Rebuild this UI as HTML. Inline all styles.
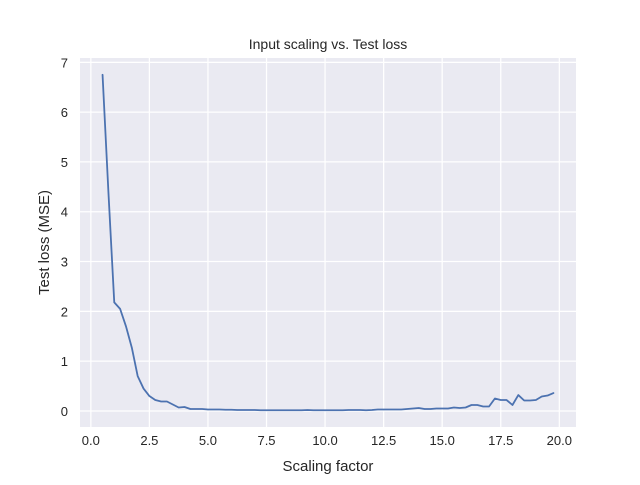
<!DOCTYPE html>
<html><head><meta charset="utf-8"><style>
body{margin:0;background:#fff;}
svg text{font-family:"Liberation Sans","DejaVu Sans",sans-serif;fill:#262626;}
</style></head><body>
<svg id="chart" width="640" height="480" viewBox="0 0 640 480"></svg>
<script>
const scalingFactors = [];
for (let i = 0; i < 78; i++) scalingFactors.push(0.5 + i * 0.25);
const testLoss = [6.75,4.4,2.18,2.05,1.7,1.27,0.7,0.45,0.3,0.22,
0.19,0.19,0.13,0.07,0.08,0.04,0.04,0.04,0.03,0.03,
0.03,0.025,0.025,0.02,0.02,0.02,0.02,0.015,0.015,0.015,
0.015,0.015,0.015,0.015,0.015,0.02,0.015,0.015,0.015,0.015,
0.015,0.015,0.02,0.02,0.02,0.015,0.02,0.03,
0.03,0.03,0.03,0.03,0.04,0.05,0.06,0.04,0.04,0.05,
0.05,0.05,0.07,0.06,0.07,0.12,0.12,0.09,0.09,0.25,
0.22,0.22,0.12,0.32,0.21,0.21,0.22,0.29,0.31,0.36];
const xTicks = [0,2.5,5,7.5,10,12.5,15,17.5,20];
const yTicks = [0,1,2,3,4,5,6,7];

const NS = "http://www.w3.org/2000/svg";
const svg = document.getElementById("chart");
const L = 80, R = 576, T = 58, B = 427;
const xMinD = Math.min(...scalingFactors), xMaxD = Math.max(...scalingFactors);
const yMinD = Math.min(...testLoss), yMaxD = Math.max(...testLoss);
const xm = (xMaxD - xMinD) * 0.05, ym = (yMaxD - yMinD) * 0.05;
const x0 = xMinD - xm, x1 = xMaxD + xm, y0 = yMinD - ym, y1 = yMaxD + ym;
const sx = v => L + (v - x0) / (x1 - x0) * (R - L);
const sy = v => B - (v - y0) / (y1 - y0) * (B - T);
function mk(tag, attrs, parent) {
  const e = document.createElementNS(NS, tag);
  for (const k in attrs) e.setAttribute(k, attrs[k]);
  (parent || svg).appendChild(e);
  return e;
}
const bg = mk("rect", {x: L, y: T, width: R - L, height: B - T, fill: "#EAEAF2"});


xTicks.forEach(t => {
  const X = sx(t);
  if (X < L || X > R) return;
  const g = mk("line", {x1: X, x2: X, y1: T, y2: B, stroke: "#fff", "stroke-width": 1.25});
  
  
  const lb = mk("text", {x: X, y: B + 18, "text-anchor": "middle", "font-size": 13});
  lb.textContent = t.toFixed(1);
  
  
});
yTicks.forEach(t => {
  const Y = sy(t);
  if (Y < T || Y > B) return;
  const g = mk("line", {x1: L, x2: R, y1: Y, y2: Y, stroke: "#fff", "stroke-width": 1.25});
  
  
  const lb = mk("text", {x: L - 12, y: Y + 5, "text-anchor": "end", "font-size": 13});
  lb.textContent = String(t);
  
  
});
const pts = scalingFactors.map((x, i) => sx(x).toFixed(2) + "," + sy(testLoss[i]).toFixed(2)).join(" ");
const line = mk("polyline", {points: pts, fill: "none", stroke: "#4C72B0", "stroke-width": 1.8, "stroke-linejoin": "round", "stroke-linecap": "round"});


const title = mk("text", {x: (L + R) / 2, y: 49, "text-anchor": "middle", "font-size": 14});
title.textContent = "Input scaling vs. Test loss";


const xl = mk("text", {x: (L + R) / 2, y: 471, "text-anchor": "middle", "font-size": 15});
xl.textContent = "Scaling factor";


const yl = mk("text", {x: 0, y: 0, "text-anchor": "middle", "font-size": 15, transform: "translate(49," + ((T + B) / 2) + ") rotate(-90)"});
yl.textContent = "Test loss (MSE)";


</script>
</body></html>
